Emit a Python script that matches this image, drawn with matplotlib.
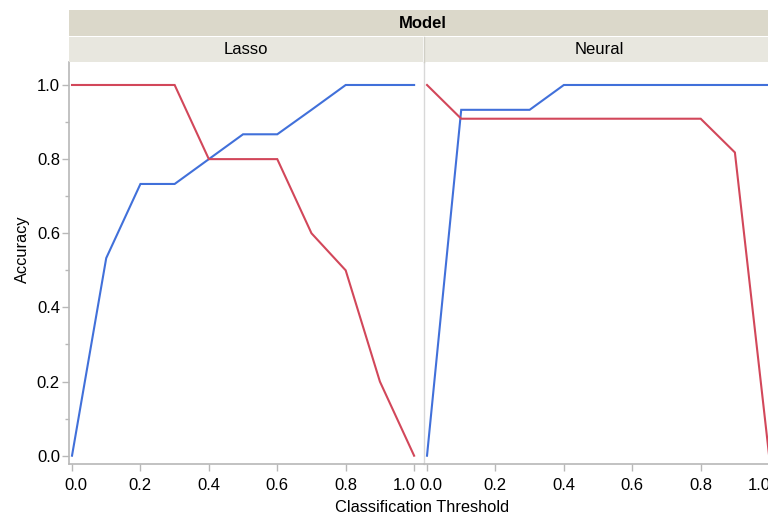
import numpy as np
import matplotlib
matplotlib.use("Agg")
import matplotlib.pyplot as plt
from matplotlib.transforms import ScaledTranslation

plt.rcParams['font.family'] = ['Liberation Sans', 'DejaVu Sans']

# data
thresholds = [0.0, 0.1, 0.2, 0.3, 0.4, 0.5, 0.6, 0.7, 0.8, 0.9, 1.0]
models = ['Lasso', 'Neural']
acc_blue = {
    'Lasso':  [0.0, 0.533, 0.733, 0.733, 0.8, 0.867, 0.867, 0.933, 1.0, 1.0, 1.0],
    'Neural': [0.0, 0.933, 0.933, 0.933, 1.0, 1.0, 1.0, 1.0, 1.0, 1.0, 1.0],
}
acc_red = {
    'Lasso':  [1.0, 1.0, 1.0, 1.0, 0.8, 0.8, 0.8, 0.6, 0.5, 0.2, 0.0],
    'Neural': [1.0, 0.909, 0.909, 0.909, 0.909, 0.909, 0.909, 0.909, 0.909, 0.818, 0.0],
}
xticks = [0.0, 0.2, 0.4, 0.6, 0.8, 1.0]
yticks = [0.0, 0.2, 0.4, 0.6, 0.8, 1.0]

blue = '#4170DA'
red = '#D2475A'
axis_gray = '#B8B8B8'

W, H = 768, 518
fig = plt.figure(figsize=(W / 100, H / 100), dpi=100)

def px_axes(x0, y0, x1, y1):
    # pixel box (top-left origin) -> figure axes
    return fig.add_axes([x0 / W, 1 - y1 / H, (x1 - x0) / W, (y1 - y0) / H])

panel_w = 354
panel_left = [69, 424]
top, bottom = 62, 464

for i, m in enumerate(models):
    x0 = panel_left[i]
    ax = px_axes(x0, top, x0 + panel_w, bottom)
    ax.plot(thresholds, acc_blue[m], color=blue, lw=1.5, solid_joinstyle='miter')
    ax.plot(thresholds, acc_red[m], color=red, lw=1.5, solid_joinstyle='miter')
    ax.set_xlim(-0.0088, 1.026)
    ax.set_ylim(-0.0224, 1.062)
    ax.set_xticks(xticks)
    ax.set_xticklabels(['%.1f' % v for v in xticks])
    ax.tick_params(axis='x', length=5, width=1, color=axis_gray,
                   labelsize=12, pad=5)
    # edge labels nudged inward like the original
    labs = ax.get_xticklabels()
    labs[0].set_transform(labs[0].get_transform() +
                          ScaledTranslation(0.04, 0, fig.dpi_scale_trans))
    labs[-1].set_transform(labs[-1].get_transform() +
                           ScaledTranslation(-0.10, 0, fig.dpi_scale_trans))
    for s in ['top', 'right']:
        ax.spines[s].set_visible(False)
    ax.spines['bottom'].set_color(axis_gray)
    ax.spines['bottom'].set_linewidth(1.2)
    if i == 0:
        ax.set_yticks(yticks)
        ax.set_yticklabels(['%.1f' % v for v in yticks])
        ax.set_yticks(np.arange(0.1, 1.0, 0.2), minor=True)
        ax.tick_params(axis='y', which='major', length=5, width=1,
                       color=axis_gray, labelsize=12, pad=1.5)
        ax.tick_params(axis='y', which='minor', length=3, width=1,
                       color=axis_gray)
        ax.spines['left'].set_color(axis_gray)
        ax.spines['left'].set_linewidth(1.2)
    else:
        ax.spines['left'].set_color('#D8D8D8')
        ax.spines['left'].set_linewidth(1)
        ax.set_yticks([])

    # panel strip
    sa = px_axes(x0, 37, x0 + panel_w, top)
    sa.set_facecolor('#E8E7DF')
    sa.set_xticks([])
    sa.set_yticks([])
    for s in sa.spines.values():
        s.set_visible(False)
    sa.text(0.5 if i == 0 else 0.495, 0.5, m, ha='center', va='center',
            fontsize=12, transform=sa.transAxes)

# separator between strips
fig.add_artist(plt.Line2D([423.5 / W, 423.5 / W], [1 - 37 / H, 1 - top / H],
                          color='#D0CFC6', lw=1))

# top "Model" strip
ha_ = px_axes(69, 10, 778, 36)
ha_.set_facecolor('#DBD8CA')
ha_.set_xticks([])
ha_.set_yticks([])
for s in ha_.spines.values():
    s.set_visible(False)
fig.text(423 / W, 1 - 23 / H, 'Model', ha='center', va='center',
         fontsize=12, fontweight='bold')

fig.text(22 / W, 1 - 249 / H, 'Accuracy', ha='center', va='center',
         rotation=90, fontsize=11.8)
fig.text(422 / W, 1 - 507 / H, 'Classification Threshold', ha='center',
         va='center', fontsize=11.8)

fig.savefig('out.png', dpi=100)
